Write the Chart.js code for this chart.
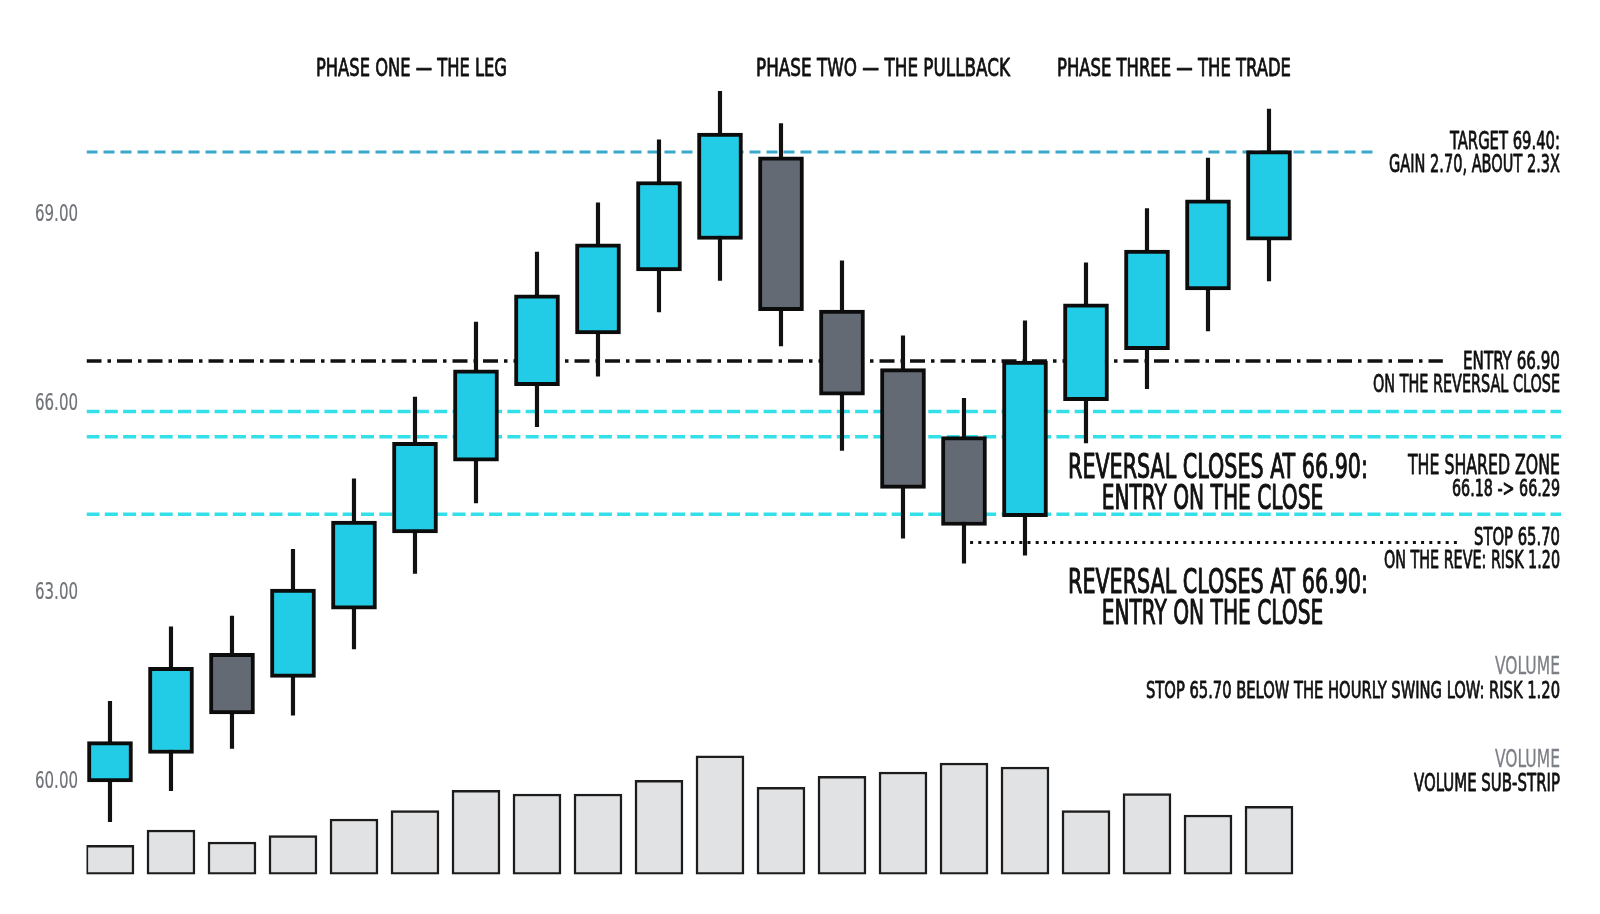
<!DOCTYPE html>
<html>
<head>
<meta charset="utf-8">
<script src="https://cdn.jsdelivr.net/npm/chart.js@4.4.1/dist/chart.umd.min.js"></script>
<style>
  html, body { margin: 0; padding: 0; background: #fff; }
  #wrap { width: 1600px; height: 914px; }
</style>
</head>
<body>
<div id="wrap"><canvas id="chart"></canvas></div>
<script>
// candle data, one entry per hourly bar
const OPEN  = [59.97, 60.42, 62.01, 61.63, 62.71, 63.92, 65.06, 66.26, 67.08, 68.08, 68.58, 69.89, 67.46, 66.53, 65.45, 64.18, 66.02, 66.83, 67.78, 68.57];
const CLOSE = [60.61, 61.79, 61.05, 63.03, 64.11, 65.36, 66.51, 67.70, 68.51, 69.50, 70.27, 67.45, 66.11, 64.63, 64.04, 66.65, 67.56, 68.41, 69.21, 69.99];
const HIGH  = [61.25, 62.43, 62.60, 63.66, 64.78, 66.08, 67.27, 68.38, 69.16, 70.16, 70.93, 70.42, 68.24, 67.05, 66.06, 67.29, 68.21, 69.07, 69.87, 70.65];
const LOW   = [59.34, 59.83, 60.50, 61.03, 62.08, 63.28, 64.40, 65.61, 66.41, 67.43, 67.93, 66.89, 65.23, 63.84, 63.44, 63.57, 65.35, 66.21, 67.13, 67.92];
const VOLUME = [1460, 2225, 1625, 1940, 2775, 3190, 4210, 4025, 4025, 4710, 5940, 4360, 4910, 5125, 5575, 5375, 3190, 4040, 2975, 3410];

const PRICE_TICKS = [60, 63, 66, 69];

// horizontal levels
const TARGET_LEVEL = 69.97;
const ENTRY_LEVEL = 66.65;
const ZONE_LEVELS = [65.85, 65.45, 64.22];
const STOP_LEVEL = 63.77;

const CYAN = '#22cbe6';
const GREY = '#646a73';
const INK = '#111111';

const X_MIN = -0.385, X_MAX = 23.787;

const bodies = OPEN.map((o, i) => ({ x: i, y: [o, CLOSE[i]] }));
const wicks = LOW.map((l, i) => ({ x: i, y: [l, HIGH[i]] }));
const vols = VOLUME.map((v, i) => ({ x: i, y: v }));

function level(y, x0, x1, color, width, dash) {
  return {
    type: 'line',
    data: [{ x: x0, y: y }, { x: x1, y: y }],
    borderColor: color,
    borderWidth: width,
    borderDash: dash,
    pointRadius: 0,
    fill: false,
    order: 3
  };
}

// text annotations: x/y in canvas px, w = rendered width
const NOTES = [
  { text: 'PHASE ONE \u2014 THE LEG', x: 411.5, y: 67, size: 25.5, w: 191, align: 'center' },
  { text: 'PHASE TWO \u2014 THE PULLBACK', x: 883, y: 67, size: 25.5, w: 254, align: 'center' },
  { text: 'PHASE THREE \u2014 THE TRADE', x: 1174, y: 67, size: 25.5, w: 234, align: 'center' },

  { text: 'TARGET 69.40:', x: 1560, y: 139.5, size: 25.5, w: 110, align: 'right' },
  { text: 'GAIN 2.70, ABOUT 2.3X', x: 1560, y: 162.8, size: 25.5, w: 171, align: 'right' },
  { text: 'ENTRY 66.90', x: 1560, y: 360, size: 25.5, w: 97, align: 'right' },
  { text: 'ON THE REVERSAL CLOSE', x: 1560, y: 382.8, size: 25.5, w: 187, align: 'right' },
  { text: 'THE SHARED ZONE', x: 1560, y: 464.5, size: 27, w: 152, align: 'right' },
  { text: '66.18 -> 66.29', x: 1560, y: 488, size: 23, w: 108, align: 'right' },
  { text: 'STOP 65.70', x: 1560, y: 536.5, size: 24.5, w: 86, align: 'right' },
  { text: 'ON THE REVE: RISK 1.20', x: 1560, y: 559.5, size: 24.5, w: 176, align: 'right' },
  { text: 'VOLUME', x: 1560, y: 665, size: 24.5, w: 65, align: 'right', color: '#7c7f85', bold: 0.3 },
  { text: 'STOP 65.70 BELOW THE HOURLY SWING LOW: RISK 1.20', x: 1560, y: 689.3, size: 23.5, w: 414, align: 'right' },
  { text: 'VOLUME', x: 1560, y: 758.5, size: 24.5, w: 65, align: 'right', color: '#7c7f85', bold: 0.3 },
  { text: 'VOLUME SUB-STRIP', x: 1560, y: 782.3, size: 25.5, w: 146, align: 'right' },

  { text: 'REVERSAL CLOSES AT 66.90:', x: 1068, y: 466.2, size: 33, w: 300, align: 'left', bold: 1 },
  { text: 'ENTRY ON THE CLOSE', x: 1101.7, y: 496.7, size: 33, w: 221.5, align: 'left', bold: 1 },
  { text: 'REVERSAL CLOSES AT 66.90:', x: 1068, y: 581, size: 33, w: 300, align: 'left', bold: 1 },
  { text: 'ENTRY ON THE CLOSE', x: 1101.7, y: 611.7, size: 33, w: 221.5, align: 'left', bold: 1 }
];

const FONT = '"Liberation Sans Narrow", "DejaVu Sans Condensed", "Liberation Sans", sans-serif';

// draws a line of text squeezed to width n.w, with a thin outline to thicken strokes
function fitText(ctx, n) {
  ctx.save();
  ctx.font = `${n.size}px ${FONT}`;
  const w = ctx.measureText(n.text).width;
  let left = n.x;
  if (n.align === 'right') left = n.x - n.w;
  if (n.align === 'center') left = n.x - n.w / 2;
  ctx.translate(left, n.y + n.size * 0.36);
  ctx.scale(n.w / w, 1);
  ctx.fillStyle = n.color || INK;
  ctx.strokeStyle = n.color || INK;
  ctx.lineWidth = n.bold === undefined ? 0.8 : n.bold;
  ctx.lineJoin = 'round';
  ctx.textAlign = 'left';
  ctx.textBaseline = 'alphabetic';
  ctx.fillText(n.text, 0, 0);
  if (ctx.lineWidth > 0.05) ctx.strokeText(n.text, 0, 0);
  ctx.restore();
}

const notesPlugin = {
  id: 'notes',
  afterDatasetsDraw(chart) {
    const ctx = chart.ctx;
    // price tick labels, placed by the y scale, condensed like the rest of the text
    const ys = chart.scales.y;
    ys.ticks.forEach(t => {
      fitText(ctx, {
        text: t.value.toFixed(2), x: ys.right - 8.5, y: ys.getPixelForValue(t.value),
        size: 23, w: 43, align: 'right', color: '#6f7277', bold: 0.2
      });
    });
    NOTES.forEach(n => fitText(ctx, n));
  }
};

new Chart(document.getElementById('chart'), {
  type: 'bar',
  data: {
    datasets: [
      {
        data: bodies,
        backgroundColor: OPEN.map((o, i) => CLOSE[i] >= o ? CYAN : GREY),
        borderColor: '#0c0c0c',
        borderWidth: 4,
        borderSkipped: false,
        barThickness: 45,
        grouped: false,
        order: 0
      },
      {
        data: wicks,
        backgroundColor: INK,
        borderWidth: 0,
        barThickness: 3.5,
        grouped: false,
        order: 1
      },
      {
        data: vols,
        yAxisID: 'yv',
        backgroundColor: '#e1e2e4',
        borderColor: '#1c1c1c',
        borderWidth: 2.5,
        borderSkipped: false,
        barThickness: 48,
        grouped: false,
        order: 2
      },
      level(TARGET_LEVEL, X_MIN, 20.77, '#38a8cc', 3, [11, 6]),
      level(ENTRY_LEVEL, X_MIN, 21.85, INK, 3.5, [15, 6, 3.5, 6]),
      level(ZONE_LEVELS[0], X_MIN, X_MAX, '#33dfe9', 3.5, [13, 5.3]),
      level(ZONE_LEVELS[1], X_MIN, X_MAX, '#33dfe9', 3.5, [13, 5.3]),
      level(ZONE_LEVELS[2], X_MIN, X_MAX, '#33dfe9', 3.5, [13, 5.3]),
      level(STOP_LEVEL, 14.10, 22.11, INK, 3, [3, 5.2])
    ]
  },
  options: {
    responsive: true,
    maintainAspectRatio: false,
    animation: false,
    layout: { padding: { left: 0, right: 39, top: 39.75, bottom: 39.5 } },
    plugins: {
      legend: { display: false },
      tooltip: { enabled: false }
    },
    scales: {
      x: {
        type: 'linear',
        display: false,
        offset: false,
        min: X_MIN,
        max: X_MAX
      },
      y: {
        position: 'left',
        min: 58.5,
        max: 71.75,
        grid: { display: false, drawTicks: false },
        border: { display: false },
        afterBuildTicks: s => { s.ticks = PRICE_TICKS.map(v => ({ value: v })); },
        afterFit: s => { s.width = 86.5; },
        ticks: { display: false }
      },
      yv: {
        display: false,
        min: 0,
        max: 41740
      }
    }
  },
  plugins: [notesPlugin]
});
</script>
</body>
</html>
